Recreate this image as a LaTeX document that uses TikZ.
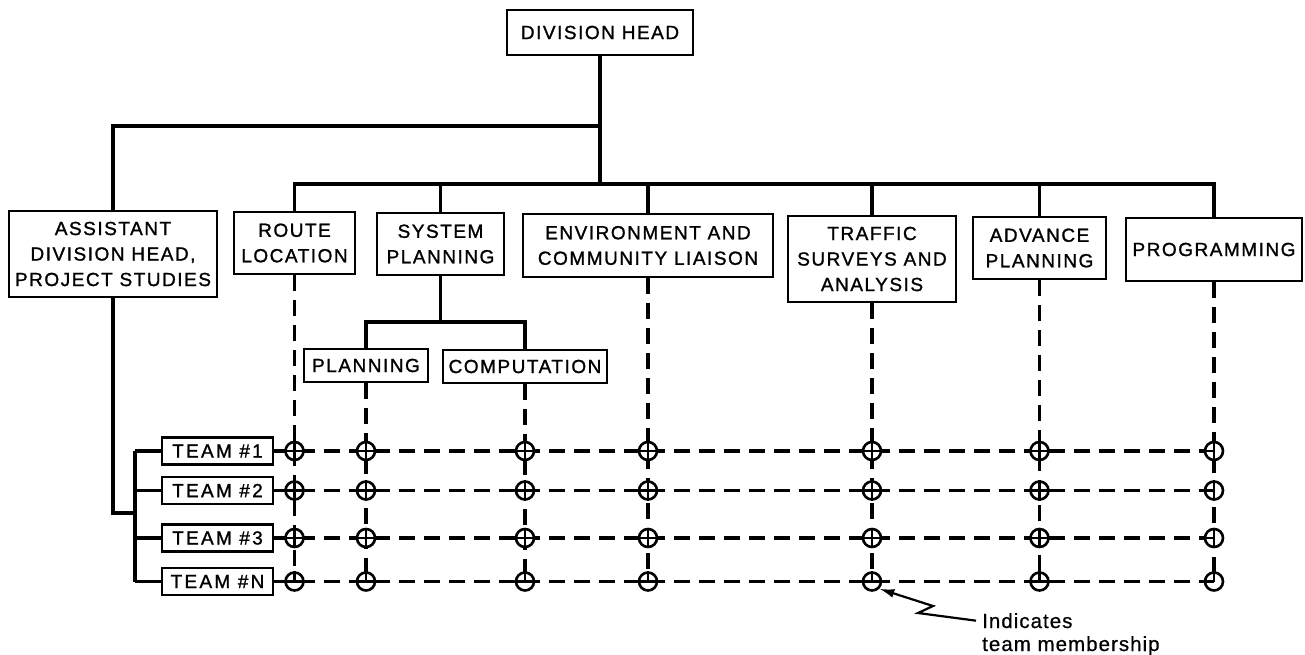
\documentclass[tikz,border=0pt]{standalone}
\usepackage{fontspec}
\usetikzlibrary{arrows.meta}
\newfontfamily\boxfont{Liberation Sans}[LetterSpace=8,FakeBold=1.2]
\newfontfamily\teamfont{Liberation Sans}[LetterSpace=12,FakeBold=1.2]
\newfontfamily\notefont{Liberation Sans}[LetterSpace=5,FakeBold=0.6]

\begin{document}
\begin{tikzpicture}[x=1pt,y=-1pt,
  unit/.style={draw, line width=2.6pt, align=center, inner sep=0pt,
    font=\boxfont\fontsize{19}{25.5}\selectfont},
  team/.style={unit, minimum width=111pt, minimum height=27pt,
    font=\teamfont\fontsize{19}{25.5}\selectfont},
  link/.style={line width=3.4pt},
  member/.style={line width=3.2pt, dash pattern=on 16pt off 9pt},
  ring/.style={circle, draw, fill=white, line width=2.6pt,
    minimum size=18pt, inner sep=0pt},
  tick/.style={line width=2.6pt},
  notetext/.style={font=\notefont\fontsize{20.5}{24}\selectfont,
    anchor=base west, inner sep=0pt}]
\useasboundingbox (0,0) rectangle (1305,655);

% organisation units
\node[unit, minimum width=186pt, minimum height=45pt] (head) at (600,32.5) {DIVISION HEAD};
\node[unit, minimum width=208pt, minimum height=86pt] (asst) at (113,254) {ASSISTANT\\DIVISION HEAD,\\PROJECT STUDIES};
\node[unit, minimum width=121pt, minimum height=62pt] (route) at (294.5,243) {ROUTE\\LOCATION};
\node[unit, minimum width=127pt, minimum height=62pt] (sys) at (440.5,244) {SYSTEM\\PLANNING};
\node[unit, minimum width=250pt, minimum height=63pt] (env) at (648,245.5) {ENVIRONMENT AND\\COMMUNITY LIAISON};
\node[unit, minimum width=168pt, minimum height=86pt] (traf) at (872,259) {TRAFFIC\\SURVEYS AND\\ANALYSIS};
\node[unit, minimum width=133pt, minimum height=62pt] (adv) at (1039.5,248) {ADVANCE\\PLANNING};
\node[unit, minimum width=176pt, minimum height=63pt] (prog) at (1214,249.5) {PROGRAMMING};
\node[unit, minimum width=124pt, minimum height=33pt] (plan) at (366,365.5) {PLANNING};
\node[unit, minimum width=164pt, minimum height=33pt] (comp) at (525,366.5) {COMPUTATION};

% project teams
\node[team] (t1) at (217.5,451) {TEAM \#1};
\node[team] (t2) at (217.5,490.5) {TEAM \#2};
\node[team] (t3) at (217.5,538) {TEAM \#3};
\node[team] (t4) at (217.5,581.5) {TEAM \#N};

% line of authority
\coordinate (hub1) at (600,126);
\coordinate (hub2) at (600,184);
\draw[link] (head.south) -- (hub2);
\draw[link] (hub1) -| (asst.north);
\draw[link] (route.north) |- (hub2) -| (prog.north);
\foreach \b in {sys,env,traf,adv}
  \draw[link] (\b.north) -- (\b.north |- hub2);
\coordinate (sub) at (440.5,322);
\draw[link] (sys.south) -- (sub);
\draw[link] (plan.north) |- (sub) -| (comp.north);

% team bracket
\coordinate (spine) at (135,513);
\draw[link] (asst.south) |- (spine);
\draw[link] (t1.west -| spine) -- (t4.west -| spine);
\foreach \r in {t1,t2,t3,t4}
  \draw[link] (\r.west -| spine) -- (\r.west);

% membership grid
\foreach \c in {route,plan,comp,env,traf,adv}
  \draw[member] (\c.south) -- (\c.south |- t4.east);
\draw[member] (prog.south) -- (prog.south |- t4.east);
\foreach \r in {t1,t2,t3,t4}
  \draw[member] (\r.east) -- (prog.south |- \r.east);

\foreach \c [count=\j] in {route,plan,comp,env,traf,adv,prog}
  \foreach \r [count=\i] in {t1,t2,t3,t4}
    \node[ring] (c-\i-\j) at (\c.south |- \r.east) {};

\foreach \i in {1,2,3}{
  \foreach \j in {1,...,6}{
    \draw[tick] (c-\i-\j.north) -- (c-\i-\j.south);
    \draw[tick] (c-\i-\j.west) -- (c-\i-\j.east);
  }
  \draw[tick] (c-\i-7.north) -- (c-\i-7.south);
  \draw[tick] (c-\i-7.west) -- (c-\i-7.center);
}
\foreach \j in {1,...,6}{
  \draw[tick] (c-4-\j.north) -- (c-4-\j.center);
  \draw[tick] (c-4-\j.west) -- (c-4-\j.east);
}
\draw[tick] (c-4-7.north) -- (c-4-7.center);
\draw[tick] (c-4-7.west) -- (c-4-7.center);

% legend
\node[notetext] (note) at (982,628) {Indicates};
\node[notetext] (note2) at (982,651) {team membership};
\coordinate (zz1) at (918,613);
\coordinate (zz2) at (933,606);
\draw[line width=2.2pt, -{Latex[length=15pt,width=9pt]}]
  ([xshift=-6pt]note.west) -- (zz1) -- (zz2) -- (c-4-5.-45);
\end{tikzpicture}
\end{document}
